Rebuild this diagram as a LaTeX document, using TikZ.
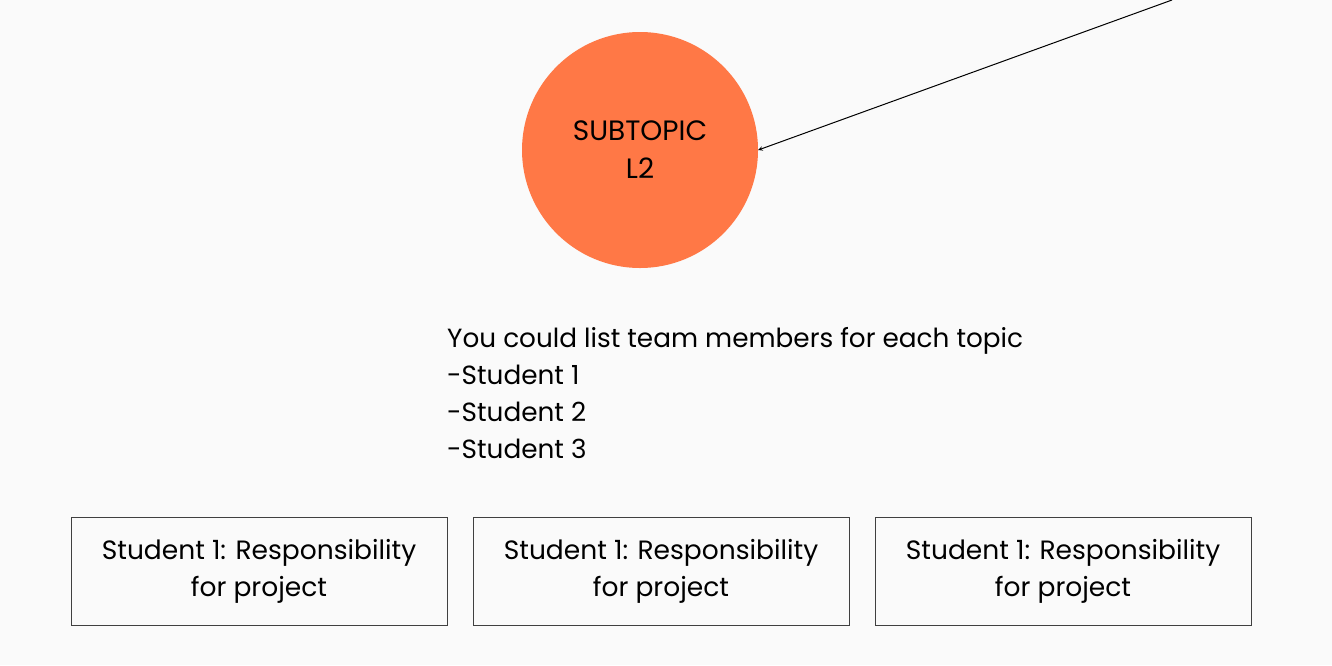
\documentclass[tikz,border=0pt]{standalone}
\usepackage{fontspec}
\setmainfont{Poppins}
\usetikzlibrary{positioning}
\definecolor{bgcol}{HTML}{FAFAFA}
\definecolor{topiccol}{HTML}{FF7846}
\definecolor{boxcol}{HTML}{404040}

\begin{document}
\begin{tikzpicture}[x=1pt,y=-1pt,->,>=stealth,
	topic/.style={circle,fill=topiccol,minimum size=236pt,inner sep=0pt,align=center,font=\fontsize{28}{38}\selectfont},
	task/.style={draw=boxcol,line width=1pt,minimum width=376pt,minimum height=108pt,inner sep=0pt,align=center,font=\fontsize{26.5}{37}\selectfont}]
	\fill[bgcol] (0,0) rectangle (1332,665);
	\useasboundingbox (0,0) rectangle (1332,665);
	\node[topic] (sub) at (640,150) {SUBTOPIC\\L2};
	\coordinate (src) at (1172,0);
	\node[anchor=base west,align=left,inner sep=0pt,font=\fontsize{26.3}{37}\selectfont] (team) at (447,458) {You could list team members for each topic\\-Student 1\\-Student 2\\-Student 3};
	\node[task] (s1) at (259,571) {Student 1: Responsibility\\for project};
	\node[task] (s2) [right=25pt of s1] {Student 1: Responsibility\\for project};
	\node[task] (s3) [right=25pt of s2] {Student 1: Responsibility\\for project};
	\draw[line width=1pt] (src) to (sub.east);
\end{tikzpicture}
\end{document}
